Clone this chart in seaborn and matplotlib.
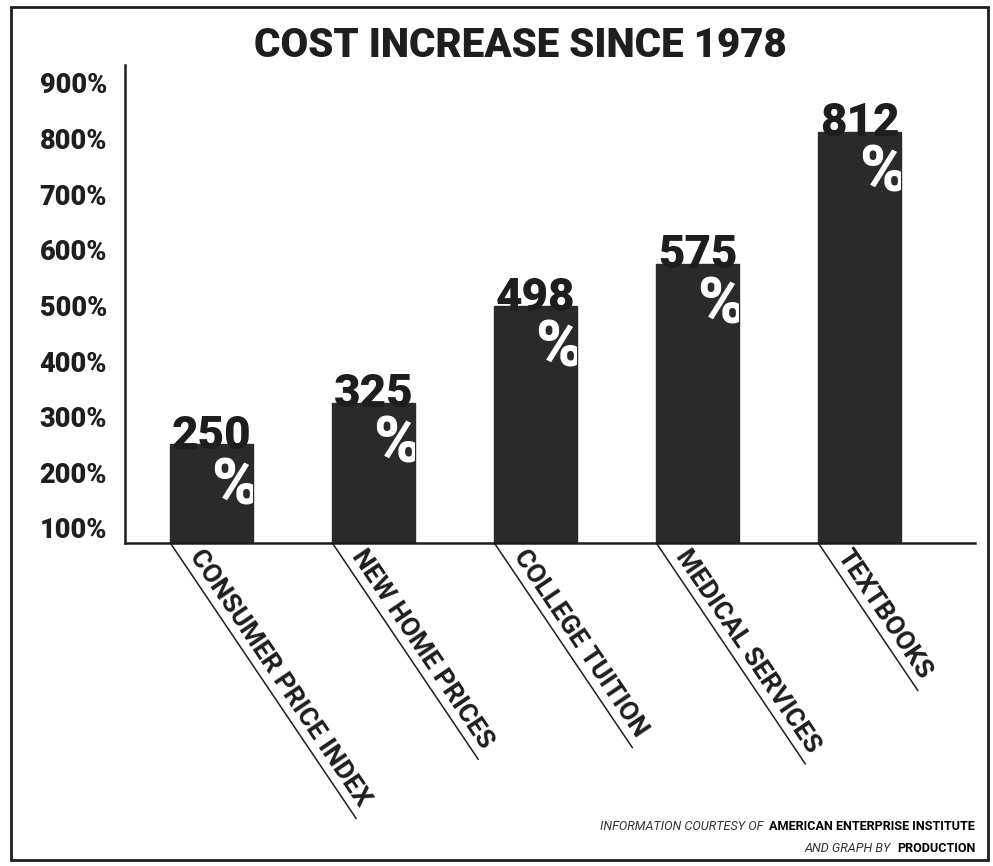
import numpy as np
import pandas as pd
import seaborn as sns
import matplotlib.pyplot as plt
from matplotlib.patches import Rectangle
from matplotlib.textpath import TextPath
from matplotlib.font_manager import FontProperties

# data
categories = ['CONSUMER PRICE INDEX', 'NEW HOME PRICES', 'COLLEGE TUITION',
              'MEDICAL SERVICES', 'TEXTBOOKS']
increase = [250, 325, 498, 575, 812]
y_ticks = [100, 200, 300, 400, 500, 600, 700, 800, 900]
y_tick_labels = [f'{t}%' for t in y_ticks]

title = 'COST INCREASE SINCE 1978'
credit_1 = ('INFORMATION COURTESY OF ', 'AMERICAN ENTERPRISE INSTITUTE')
credit_2 = ('AND GRAPH BY ', 'PRODUCTION')

bar_color = '#2a2a2a'
ink = '#1e1e1e'
main_font = ['Roboto', 'DejaVu Sans']
narrow_font = ['Liberation Sans Narrow', 'Roboto', 'DejaVu Sans']

sns.set_theme(style='white')
plt.rcParams['font.family'] = main_font

df = pd.DataFrame({'category': categories, 'increase': increase})

fig = plt.figure(figsize=(9.93, 8.66), dpi=100)
fig.patch.set_facecolor('white')
ax = fig.add_axes([0.126, 0.373, 0.856, 0.552])

bar_w = 0.51
sns.barplot(data=df, x='category', y='increase', color=bar_color,
            saturation=1, width=bar_w, ax=ax)
for p in ax.patches:
    p.set_edgecolor(bar_color)

ax.set_xlim(-0.534, 4.713)
ax.set_ylim(73, 932)
ax.set_yticks(y_ticks)
ax.set_yticklabels(y_tick_labels, fontsize=19.5, fontweight='heavy', color=ink)
ax.tick_params(axis='y', length=0, pad=13)
ax.set_xticks([])
ax.set_xlabel('')
ax.set_ylabel('')
for side in ['top', 'right']:
    ax.spines[side].set_visible(False)
for side in ['left', 'bottom']:
    ax.spines[side].set_color(ink)
    ax.spines[side].set_linewidth(1.8)

# value labels: number above, white % inside the bar
for i, (v, p) in enumerate(zip(increase, ax.patches)):
    ax.annotate(str(v), xy=(i, v), xytext=(0, -3), textcoords='offset points',
                ha='center', va='baseline', fontsize=33, fontweight='black',
                color=ink)
    pct = ax.annotate('%', xy=(i + bar_w / 2, v), xytext=(4, -8),
                      textcoords='offset points', ha='right', va='top',
                      fontsize=46, fontweight='black', color='white')
    pct.set_clip_path(p)

# slanted category labels with an underline running from the bar's left foot
angle = -56
d = np.array([np.cos(np.radians(angle)), np.sin(np.radians(angle))])
n = np.array([-d[1], d[0]])
label_size = 19
fp = FontProperties(family=main_font, weight='bold', size=label_size)
for i, cat in enumerate(categories):
    start = (i - bar_w / 2, 0)
    tw = TextPath((0, 0), cat, prop=fp).get_extents().width
    off = d * 15 + n * 2.5
    ax.annotate(cat, xy=start, xycoords=('data', 'axes fraction'),
                xytext=off, textcoords='offset points', rotation=angle,
                rotation_mode='anchor', ha='left', va='bottom',
                fontsize=label_size, fontweight='bold', color=ink,
                annotation_clip=False)
    end = d * (tw + 21)
    ax.annotate('', xy=start, xycoords=('data', 'axes fraction'),
                xytext=end, textcoords='offset points', annotation_clip=False,
                arrowprops=dict(arrowstyle='-', color=ink, lw=1.1,
                                shrinkA=0, shrinkB=0))

fig.text(0.524, 0.948, title, ha='center', va='center', fontsize=29,
         fontweight='black', color=ink)

# credits, bottom right
credit_size = 9.1
b1 = fig.text(0.982, 0.041, credit_1[1], ha='right', va='baseline',
              fontsize=credit_size, fontweight='bold', family=narrow_font,
              color='black')
b2 = fig.text(0.982, 0.016, credit_2[1], ha='right', va='baseline',
              fontsize=credit_size, fontweight='bold', family=narrow_font,
              color='black')

fig.canvas.draw()
for big, small, y in [(b1, credit_1[0], 0.041), (b2, credit_2[0], 0.016)]:
    bb = big.get_window_extent().transformed(fig.transFigure.inverted())
    fig.text(bb.x0 - 0.006, y, small.strip(), ha='right', va='baseline',
             fontsize=credit_size, style='italic', family=narrow_font,
             color='#333333')

# outer frame
fig.patches.append(Rectangle((0.011, 0.007), 0.984, 0.985, transform=fig.transFigure,
                             fill=False, edgecolor=ink, linewidth=2))

fig.savefig('out.png', dpi=100, facecolor='white')
